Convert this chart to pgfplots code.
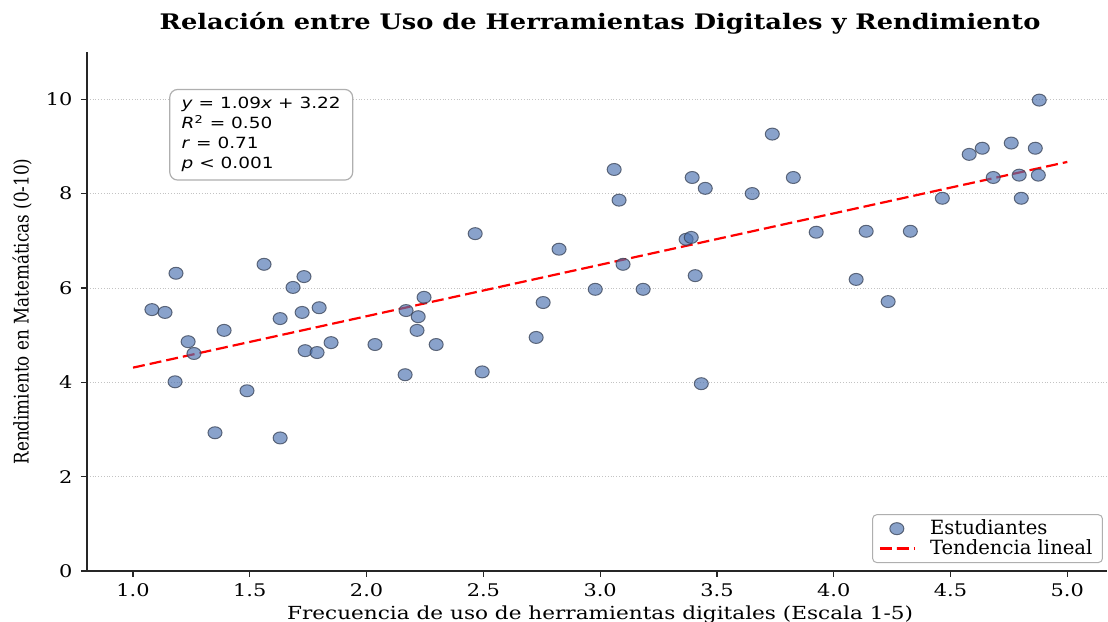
\documentclass[border=0pt]{standalone}
\usepackage{fontspec}
\setmainfont{DejaVu Serif}
\newfontfamily\sansfont{DejaVu Sans}
\usepackage{pgfplots}
\usepackage{pgfplotstable}
\pgfplotsset{compat=1.18}
\definecolor{ptfill}{RGB}{76,114,176}
\definecolor{ptedge}{RGB}{55,65,85}
\definecolor{gridc}{RGB}{195,195,195}
\definecolor{boxedge}{RGB}{175,175,175}

\pgfplotstableread{
x y
1.081 5.54
1.137 5.48
1.184 6.31
1.236 4.86
1.180 4.01
1.261 4.61
1.390 5.10
1.351 2.93
1.488 3.82
1.561 6.50
1.630 5.35
1.630 2.82
1.685 6.01
1.732 6.24
1.724 5.48
1.737 4.67
1.788 4.63
1.797 5.58
1.848 4.84
2.036 4.80
2.169 5.52
2.165 4.16
2.221 5.39
2.216 5.10
2.246 5.80
2.298 4.80
2.465 7.15
2.495 4.22
2.726 4.95
2.756 5.69
2.824 6.82
2.979 5.97
3.060 8.51
3.081 7.86
3.098 6.50
3.184 5.97
3.368 7.03
3.390 7.07
3.394 8.34
3.407 6.26
3.450 8.11
3.433 3.97
3.651 8.00
3.737 9.26
3.827 8.34
3.925 7.18
4.096 6.18
4.139 7.20
4.233 5.71
4.328 7.20
4.465 7.90
4.580 8.83
4.636 8.96
4.683 8.34
4.760 9.07
4.794 8.39
4.803 7.90
4.863 8.96
4.876 8.39
4.880 9.98
}\datatable

\begin{document}
\begin{tikzpicture}
\path[use as bounding box] (-43.5pt,-25pt) rectangle (510.5pt,285.5pt);
\begin{axis}[
  scale only axis, width=510pt, height=259.5pt,
  at={(0,0)}, anchor=south west,
  xmin=0.803, xmax=5.17, ymin=0, ymax=11,
  axis x line*=bottom, axis y line*=left,
  axis line style={line width=0.6pt, black!85, -},
  xtick={1,1.5,2,2.5,3,3.5,4,4.5,5}, ytick={0,2,4,6,8,10},
  tick align=outside, major tick length=3pt,
  tick style={line width=0.6pt, black!85},
  ymajorgrids, grid style={densely dotted, gridc, line width=0.4pt},
  /pgf/number format/assume math mode=true,
  xticklabel style={/pgf/number format/.cd, fixed, fixed zerofill, precision=1},
  tick label style={font=\fontsize{8.7}{10}\selectfont, xscale=1.2},
  xlabel={Frecuencia de uso de herramientas digitales (Escala 1-5)},
  ylabel={Rendimiento en Matemáticas (0-10)},
  xlabel style={at={(axis description cs:0.503,0)}, anchor=base, yshift=-24pt, font=\fontsize{9}{10}\selectfont, xscale=1.2},
  ylabel style={at={(axis description cs:-0.0637,0.5)}, anchor=center, font=\fontsize{8.4}{10}\selectfont, yscale=1.2},
  title={Relación entre Uso de Herramientas Digitales y Rendimiento},
  title style={at={(axis description cs:0.503,1)}, anchor=base, yshift=5pt, font=\bfseries\fontsize{10.7}{12}\selectfont, xscale=1.2},
  legend style={at={(axis description cs:0.996,0.0154)}, anchor=south east, draw=boxedge, rounded corners=2pt, font=\fontsize{9.8}{11}\selectfont, xscale=1.2, line width=0.5pt, inner xsep=3pt, inner ysep=0.5pt, row sep=-3pt, /tikz/every odd column/.append style={column sep=5.5pt}},
  legend cell align=left,
  clip=false,
]
\addplot[only marks, mark=*, mark size=3pt, mark options={fill=ptfill, fill opacity=0.66, draw=ptedge, draw opacity=0.75, line width=0.5pt, xscale=1.17}] table[x=x,y=y] {\datatable};
\addlegendentry{Estudiantes}
\addplot[red, line width=1.1pt, dash pattern=on 6pt off 2.5pt] coordinates {(1,4.31) (5,8.67)};
\addlegendentry{Tendencia lineal}
\node[draw=boxedge, rounded corners=4pt, fill=white, anchor=north west, align=left, inner xsep=5pt, inner ysep=4pt, font=\sansfont\fontsize{7.7}{10}\selectfont, xscale=1.2, line width=0.6pt] at (rel axis cs:0.0804,0.929) {\textit{y} = 1.09\textit{x} + 3.22\\\textit{R}\textsuperscript{2} = 0.50\\\textit{r} = 0.71\\\textit{p} < 0.001};
\end{axis}
\end{tikzpicture}
\end{document}
